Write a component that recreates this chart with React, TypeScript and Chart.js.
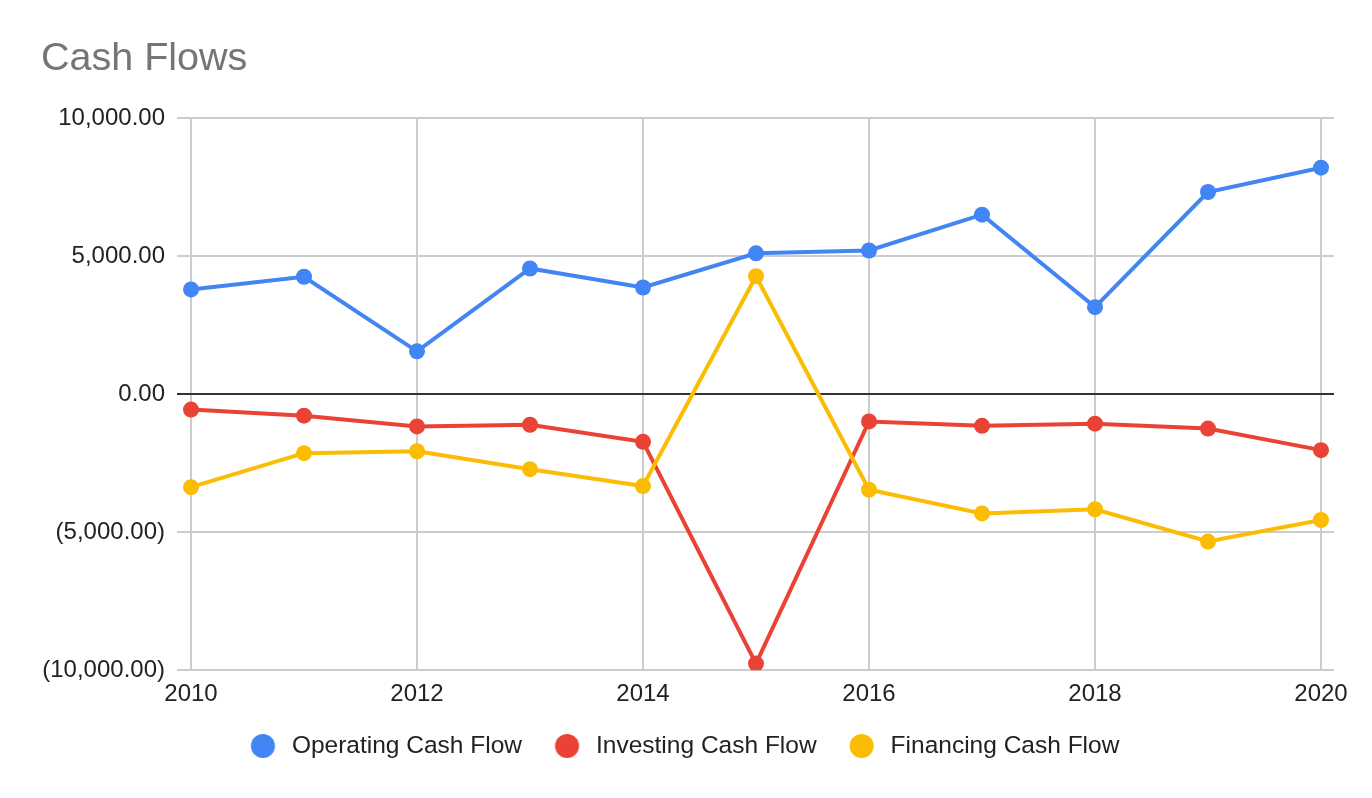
import React, { useRef, useEffect } from 'react';
import { Chart, registerables } from 'chart.js';

Chart.register(...registerables);

const YEARS = [2010, 2011, 2012, 2013, 2014, 2015, 2016, 2017, 2018, 2019, 2020];
const X_TICKS = [2010, 2012, 2014, 2016, 2018, 2020];
const Y_TICKS = [-10000, -5000, 0, 5000, 10000];

const OPERATING = [3790, 4250, 1550, 4550, 3860, 5100, 5200, 6500, 3150, 7320, 8200];
const INVESTING = [-560, -780, -1170, -1110, -1730, -9760, -990, -1150, -1070, -1250, -2030];
const FINANCING = [-3370, -2140, -2070, -2720, -3330, 4270, -3460, -4320, -4170, -5340, -4560];

const SERIES = [
  { label: 'Operating Cash Flow', values: OPERATING, color: '#4285F4' },
  { label: 'Investing Cash Flow', values: INVESTING, color: '#EA4335' },
  { label: 'Financing Cash Flow', values: FINANCING, color: '#FBBC04' }
];

const FONT = "'Liberation Sans', Arial, sans-serif";

// legend marker: circle drawn into a small canvas, used as the legend point style
function legendDot(color: string) {
  const c = document.createElement('canvas');
  c.width = 60;
  c.height = 24;
  const g = c.getContext('2d')!;
  g.fillStyle = color;
  g.beginPath();
  g.arc(36.75, 12, 12, 0, Math.PI * 2);
  g.fill();
  return c;
}

// nudge the centred legend a little to the left
const shiftLegend = {
  id: 'shiftLegend',
  afterLayout(chart: any) {
    const lg = chart.legend;
    if (lg) {
      lg.left -= 11.5;
      lg.right -= 11.5;
    }
  }
};

function money(v: number) {
  const s = Math.abs(v).toLocaleString('en-US', { minimumFractionDigits: 2, maximumFractionDigits: 2 });
  return v < 0 ? `(${s})` : s;
}

export default function App() {
  const chartRef = useRef<HTMLCanvasElement>(null);

  useEffect(() => {
    document.body.style.margin = '0';
    if (!chartRef.current) return;
    Chart.defaults.font.family = FONT;

    const dots = SERIES.map(s => legendDot(s.color));

    const chart = new Chart(chartRef.current, {
      type: 'line',
      data: {
        datasets: SERIES.map((s, i) => ({
          label: s.label,
          data: YEARS.map((yr, j) => ({ x: yr, y: s.values[j] })),
          borderColor: s.color,
          backgroundColor: s.color,
          borderWidth: 4,
          pointRadius: 8,
          pointHoverRadius: 8,
          pointBorderWidth: 0,
          tension: 0,
          order: SERIES.length - i
        }))
      },
      plugins: [shiftLegend],
      options: {
        animation: false,
        responsive: true,
        maintainAspectRatio: false,
        layout: { padding: { left: 41, right: 38, top: 0, bottom: 29.75 } },
        plugins: {
          title: {
            display: true,
            text: 'Cash Flows',
            align: 'start',
            color: '#757575',
            font: { size: 39.5, weight: 'normal', family: FONT },
            padding: { top: 35, bottom: 35.6 }
          },
          legend: {
            position: 'bottom',
            labels: {
              usePointStyle: true,
              pointStyleWidth: 47,
              padding: 14.75,
              color: '#222222',
              font: { size: 24.5, family: FONT },
              generateLabels: (ch: any) => {
                const items = Chart.defaults.plugins.legend.labels.generateLabels(ch);
                return items
                  .sort((a: any, b: any) => a.datasetIndex - b.datasetIndex)
                  .map((it: any) => ({ ...it, pointStyle: dots[it.datasetIndex] }));
              }
            }
          },
          tooltip: { enabled: false }
        },
        scales: {
          x: {
            type: 'linear',
            min: 2010 - 14 / 113,
            max: 2020 + 13 / 113,
            afterBuildTicks: (scale: any) => {
              scale.ticks = X_TICKS.map(v => ({ value: v }));
            },
            ticks: {
              padding: 10,
              color: '#222222',
              font: { size: 24, family: FONT },
              maxRotation: 0,
              callback: (v: any) => String(v)
            },
            grid: { color: '#cccccc', lineWidth: 2, drawTicks: false },
            border: { display: false }
          },
          y: {
            min: -10000,
            max: 10000,
            afterBuildTicks: (scale: any) => {
              scale.ticks = Y_TICKS.map(v => ({ value: v }));
            },
            afterFit: (scale: any) => {
              scale.width = 136;
            },
            ticks: {
              padding: 12,
              color: '#222222',
              font: { size: 24, family: FONT },
              callback: (v: any) => money(Number(v))
            },
            grid: {
              color: (ctx: any) => (ctx.tick && ctx.tick.value === 0 ? '#333333' : '#cccccc'),
              lineWidth: 2,
              drawTicks: false
            },
            border: { display: false }
          }
        }
      }
    });

    return () => {
      chart.destroy();
    };
  }, []);

  return (
    <div style={{ width: 1372, height: 798, position: 'relative' }}>
      <canvas ref={chartRef} />
    </div>
  );
}
